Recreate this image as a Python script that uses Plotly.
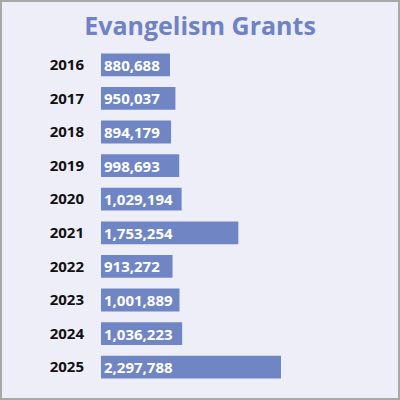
import plotly.graph_objects as go

years = ["2016", "2017", "2018", "2019", "2020", "2021", "2022", "2023", "2024", "2025"]
grants = [880688, 950037, 894179, 998693, 1029194, 1753254, 913272, 1001889, 1036223, 2297788]
labels = [f"{v:,}" for v in grants]

W, H = 400, 400
ml, mr, mt, mb = 101, 9, 48, 16
pw, ph = W - ml - mr, H - mt - mb

fig = go.Figure(go.Bar(
    y=years, x=grants, orientation="h",
    text=labels, textposition="inside", insidetextanchor="start",
    textfont=dict(family="Open Sans", size=15, color="white", weight="bold"),
    marker=dict(color="#7086c4", line=dict(width=0)),
    cliponaxis=False,
    hoverinfo="skip",
))

fig.update_layout(
    width=W, height=H,
    margin=dict(l=ml, r=mr, t=mt, b=mb),
    paper_bgcolor="#eeeef8", plot_bgcolor="#eeeef8",
    bargap=0.32,
    showlegend=False,
    uniformtext=dict(minsize=15, mode="show"),
    title=dict(text="<b>Evangelism Grants</b>", x=0.5, xanchor="center",
               y=1 - 26 / H, yref="container", yanchor="middle",
               font=dict(family="Open Sans", size=25, color="#6f82c3")),
    font=dict(family="Open Sans"),
)
fig.update_xaxes(range=[0, 3.702e6], visible=False, showgrid=False, zeroline=False)
fig.update_yaxes(autorange="reversed", showgrid=False, zeroline=False, ticks="",
                 ticklabelstandoff=16,
                 tickfont=dict(family="Open Sans", size=15, color="#111111", weight="bold"))

fig.add_shape(type="rect", xref="paper", yref="paper",
              x0=-(ml - 1) / pw, x1=1 + (mr - 1) / pw,
              y0=-(mb - 1) / ph, y1=1 + (mt - 1) / ph,
              line=dict(color="#a8a8a8", width=2), fillcolor="rgba(0,0,0,0)", layer="above")

fig.write_html("out.html", config={"displayModeBar": False},
               post_script="document.body.style.margin='0';document.body.style.overflow='hidden';")
